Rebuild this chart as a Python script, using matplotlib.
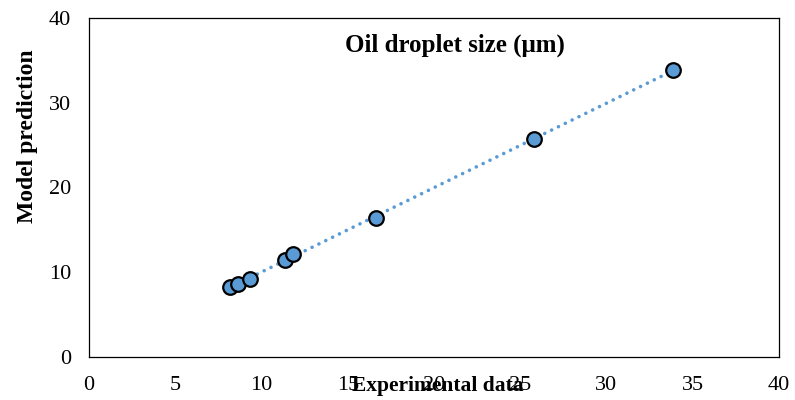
import numpy as np
import matplotlib
matplotlib.use("Agg")
import matplotlib.pyplot as plt

experimental = [8.17, 8.64, 9.33, 11.36, 11.83, 16.64, 25.80, 33.86]
predicted = [8.26, 8.61, 9.20, 11.45, 12.15, 16.40, 25.72, 33.86]
x_ticks = [0, 5, 10, 15, 20, 25, 30, 35, 40]
y_ticks = [0, 10, 20, 30, 40]
title = "Oil droplet size (\u03bcm)"
xlabel = "Experimental data"
ylabel = "Model prediction"

plt.rcParams['font.family'] = ['Liberation Serif', 'DejaVu Serif']
blue = "#5B9BD5"

fig = plt.figure(figsize=(7.95, 4.0), dpi=100)
ax = fig.add_axes([89/795, 1-357/400, 690/795, 339/400])

# trendline (linear fit)
coef = np.polyfit(experimental, predicted, 1)
xs = np.array([min(experimental), max(experimental)])
ax.plot(xs, np.polyval(coef, xs), color=blue, lw=2.6, linestyle=(0, (0.01, 2.1)),
        dash_capstyle='round', zorder=2)

ax.plot(experimental, predicted, 'o', ms=10.5, mfc=blue, mec='black', mew=1.6, zorder=3)

ax.set_xlim(0, 40)
ax.set_ylim(0, 40)
ax.set_xticks(x_ticks)
ax.set_yticks(y_ticks)
ax.tick_params(length=0, labelsize=16)
ax.tick_params(axis='x', pad=14)
ax.tick_params(axis='y', pad=13)
for s in ax.spines.values():
    s.set_linewidth(0.9)
    s.set_color('black')

ax.text(0.53, 0.92, title, transform=ax.transAxes, ha='center', va='center',
        fontsize=18, fontweight='bold')
fig.text(438/795, 1-386/400, xlabel, ha='center', va='center', fontsize=15.5, fontweight='bold')
fig.text(28/795, 1-136/400, ylabel, ha='center', va='center', rotation=90,
         fontsize=17, fontweight='bold')

fig.savefig("out.png", dpi=100)
